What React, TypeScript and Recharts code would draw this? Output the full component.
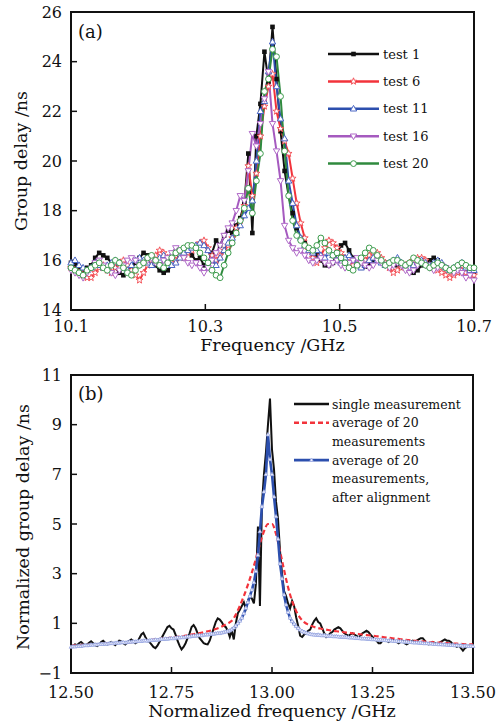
import React from 'react';
import { LineChart, Line, XAxis, YAxis, Legend, ReferenceArea, Customized } from 'recharts';

const FONT = '"DejaVu Serif", "Liberation Serif", serif';
const INK = '#111';

// ---- panel (a): group delay of 5 tests, 10.100 … 10.700 GHz sampled every 0.006 GHz
const test1 = [
  15.9, 15.8, 15.6, 15.5, 15.7, 15.8, 16.1, 16.3, 16.2, 16.1,
  15.9, 15.7, 15.5, 15.4, 15.5, 15.7, 15.9, 16.1, 16.3, 16.2,
  16.0, 15.8, 15.6, 15.5, 15.6, 15.8, 16.0, 16.2, 16.4, 16.3,
  16.2, 16.0, 16.1, 15.8, 15.9, 16.3, 16.8, 16.6, 17.0, 17.2,
  17.1, 17.4, 17.7, 18.3, 20.3, 17.1, 21.0, 22.3, 24.4, 23.2,
  25.4, 23.3, 21.2, 19.6, 18.6, 17.9, 17.3, 16.9, 16.7, 16.5,
  16.4, 16.2, 16.0, 15.8, 15.8, 15.9, 16.3, 16.6, 16.7, 16.4,
  16.1, 15.8, 15.7, 15.75, 15.9, 16.0, 16.1, 16.0, 15.9, 15.8,
  15.9, 15.8, 15.7, 15.7, 15.6, 15.5, 15.6, 15.8, 15.9, 16.0,
  16.1, 16.0, 15.8, 15.7, 15.6, 15.5, 15.5, 15.6, 15.6, 15.5,
  15.5,
];
const test6 = [
  15.7, 15.6, 15.5, 15.4, 15.3, 15.3, 15.5, 15.7, 15.8, 15.6,
  15.5, 15.7, 15.9, 16.0, 15.8, 15.6, 15.4, 15.2, 15.5, 15.8,
  16.0, 16.2, 16.4, 16.3, 16.1, 15.9, 16.0, 16.2, 16.1, 16.3,
  16.4, 16.6, 16.7, 16.8, 16.5, 16.2, 16.0, 16.2, 16.4, 16.6,
  16.9, 17.3, 17.6, 18.2, 19.8, 18.6, 19.5, 21.0, 22.2, 23.0,
  23.5, 22.0, 21.3, 20.8, 20.3, 19.3, 18.3, 17.5, 16.9, 16.4,
  16.1, 15.9, 16.2, 16.5, 16.8, 16.7, 16.5, 16.3, 16.1, 15.9,
  15.8, 15.8, 15.9, 16.0, 16.2, 16.3, 16.3, 16.1, 15.9, 15.7,
  15.5, 15.6, 15.7, 15.8, 15.9, 16.0, 16.1, 16.1, 16.0, 15.8,
  15.7, 15.6, 15.5, 15.4, 15.3, 15.4, 15.5, 15.6, 15.5, 15.4,
  15.4,
];
const test11 = [
  15.9, 16.0, 15.8, 15.7, 15.6, 15.7, 15.9, 15.8, 15.7, 15.8,
  15.9, 16.0, 15.9, 15.7, 15.6, 15.8, 16.0, 16.1, 16.0, 15.9,
  15.8, 15.9, 16.1, 16.2, 16.0, 15.8, 15.9, 16.1, 16.3, 16.4,
  16.5, 16.6, 16.7, 16.6, 16.4, 16.0, 15.8, 16.1, 16.4, 16.7,
  16.9, 17.1, 17.4, 17.8, 18.1, 18.4, 20.0, 22.0, 22.4, 23.6,
  24.8, 23.0, 21.7, 20.9, 19.2, 18.3, 17.4, 16.9, 16.6, 16.4,
  16.3, 16.4, 16.2, 16.1, 16.3, 16.2, 16.0, 15.9, 16.1, 16.2,
  16.0, 15.8, 15.7, 15.8, 16.0, 16.1, 16.0, 15.9, 15.8, 15.9,
  16.0, 16.1, 15.9, 15.8, 15.7, 15.8, 15.9, 16.0, 15.9, 15.8,
  15.9, 16.0, 15.9, 15.7, 15.6, 15.7, 15.8, 15.9, 15.7, 15.6,
  15.6,
];
const test16 = [
  15.6, 15.5, 15.4, 15.3, 15.5, 15.7, 15.9, 16.0, 15.8, 15.6,
  15.5, 15.4, 15.6, 15.8, 16.0, 16.1, 16.0, 15.8, 15.9, 16.0,
  16.1, 15.9, 15.8, 16.0, 16.1, 16.3, 16.5, 16.4, 16.1, 15.9,
  15.8, 15.9, 15.7, 15.5, 15.7, 16.0, 16.3, 16.6, 17.0, 17.3,
  17.5, 18.0, 18.6, 18.4, 19.6, 21.1, 20.6, 21.5, 22.5, 23.6,
  21.5, 20.4, 19.2, 17.4, 16.8, 16.5, 16.3, 16.4, 16.2, 16.0,
  15.9, 16.0, 16.1, 15.9, 15.8, 15.9, 16.0, 15.8, 15.7, 15.9,
  16.0, 16.1, 15.9, 15.8, 15.7, 15.8, 16.0, 15.9, 15.8, 15.7,
  15.8, 15.9, 15.8, 15.6, 15.5, 15.6, 15.8, 15.9, 15.8, 15.7,
  15.6, 15.7, 15.8, 15.7, 15.6, 15.5, 15.6, 15.5, 15.3, 15.4,
  15.2,
];
const test20 = [
  15.7, 15.6, 15.5, 15.4, 15.6, 15.7, 15.8, 15.9, 15.7, 15.6,
  15.8, 16.0, 15.9, 15.7, 15.5, 15.4, 15.6, 15.8, 15.9, 16.1,
  16.2, 16.0, 15.8, 15.7, 15.9, 16.1, 16.3, 16.4, 16.5, 16.6,
  16.6, 16.5, 16.3, 16.1, 15.9, 15.6, 15.4, 15.3, 15.8, 16.3,
  16.7, 17.1, 17.6, 18.1, 18.9, 17.9, 19.2, 20.3, 22.8, 23.3,
  24.5, 24.2, 22.6, 20.4, 18.6, 17.6, 17.0, 16.8, 16.6, 16.5,
  16.4, 16.6, 16.9, 16.7, 16.4, 16.2, 16.3, 16.1, 15.9, 15.7,
  15.6, 15.8, 16.1, 16.3, 16.5, 16.4, 16.2, 16.0, 15.8, 15.9,
  16.0, 16.0, 15.9, 15.8, 15.9, 16.1, 16.0, 15.9, 15.8, 15.7,
  15.8, 15.9, 15.8, 15.7, 15.6, 15.7, 15.8, 15.9, 15.8, 15.7,
  15.7,
];
const xTicksA = [10.1, 10.3, 10.5, 10.7];
const yTicksA = [14, 16, 18, 20, 22, 24, 26];

// ---- panel (b): normalized group delay, 12.50 … 13.50 GHz
// single measurement and aligned average every 0.005 GHz
const single = [
  0.05, 0.10, 0.15, 0.12, 0.20, 0.25, 0.18, 0.10, 0.15, 0.22,
  0.28, 0.20, 0.12, 0.08, 0.15, 0.25, 0.30, 0.22, 0.15, 0.20,
  0.25, 0.18, 0.12, 0.20, 0.30, 0.28, 0.20, 0.15, 0.22, 0.30,
  0.35, 0.28, 0.20, 0.25, 0.40, 0.55, 0.62, 0.45, 0.30, 0.25,
  0.15, 0.05, 0.00, 0.10, 0.25, 0.40, 0.55, 0.70, 0.85, 0.90,
  0.80, 0.75, 0.55, 0.30, 0.10, -0.05, 0.05, 0.20, 0.40, 0.60,
  0.85, 0.93, 0.80, 0.60, 0.40, 0.30, 0.20, 0.17, 0.15, 0.30,
  0.55, 0.80, 1.05, 1.20, 1.15, 1.05, 0.90, 0.85, 0.70, 0.45,
  0.70, 0.35, 1.00, 1.40, 1.55, 1.70, 1.85, 1.60, 1.90, 2.10,
  2.00, 1.80, 2.60, 4.90, 1.70, 5.80, 7.00, 7.90, 9.00, 10.05,
  8.00, 7.20, 5.90, 5.20, 3.90, 3.00, 2.30, 2.10, 1.80, 1.60,
  1.90, 1.70, 1.25, 0.90, 0.50, 0.45, 0.55, 0.60, 0.70, 0.75,
  0.95, 1.10, 1.20, 1.05, 1.00, 0.80, 0.60, 0.45, 0.50, 0.60,
  0.65, 0.75, 0.80, 0.85, 0.80, 0.70, 0.60, 0.55, 0.50, 0.55,
  0.60, 0.55, 0.50, 0.45, 0.50, 0.60, 0.65, 0.70, 0.65, 0.55,
  0.45, 0.35, 0.30, 0.20, 0.20, 0.30, 0.35, 0.30, 0.25, 0.30,
  0.35, 0.30, 0.25, 0.20, 0.25, 0.30, 0.20, 0.15, 0.20, 0.25,
  0.30, 0.25, 0.30, 0.35, 0.40, 0.40, 0.30, 0.20, 0.15, 0.20,
  0.25, 0.20, 0.15, 0.20, 0.25, 0.30, 0.35, 0.30, 0.30, 0.25,
  0.15, 0.10, 0.05, 0.10, 0.00, -0.10, 0.00, 0.05, 0.10, 0.05,
  0.08,
];
const aligned = [
  0.05, 0.07, 0.06, 0.08, 0.09, 0.08, 0.10, 0.12, 0.11, 0.12,
  0.14, 0.13, 0.15, 0.14, 0.16, 0.17, 0.16, 0.18, 0.17, 0.19,
  0.20, 0.19, 0.21, 0.22, 0.21, 0.23, 0.24, 0.22, 0.24, 0.26,
  0.25, 0.27, 0.26, 0.28, 0.29, 0.28, 0.30, 0.31, 0.29, 0.31,
  0.33, 0.32, 0.34, 0.33, 0.35, 0.37, 0.36, 0.38, 0.37, 0.39,
  0.40, 0.39, 0.41, 0.43, 0.42, 0.44, 0.43, 0.45, 0.47, 0.46,
  0.48, 0.50, 0.49, 0.51, 0.52, 0.51, 0.53, 0.55, 0.54, 0.56,
  0.58, 0.57, 0.59, 0.61, 0.60, 0.62, 0.64, 0.66, 0.68, 0.71,
  0.75, 0.82, 0.90, 1.00, 1.10, 1.22, 1.40, 1.62, 1.85, 2.10,
  2.35, 2.65, 3.10, 3.75, 4.70, 5.70, 6.30, 7.00, 8.60, 7.60,
  7.00, 6.10, 5.30, 4.40, 3.40, 2.80, 2.15, 1.75, 1.45, 1.22,
  1.08, 0.98, 0.88, 0.80, 0.74, 0.69, 0.65, 0.62, 0.59, 0.57,
  0.55,
  0.54, 0.53, 0.54, 0.52, 0.51, 0.52, 0.50, 0.49, 0.50, 0.48,
  0.47, 0.48, 0.46, 0.45, 0.46, 0.44, 0.45, 0.43, 0.42, 0.43,
  0.41, 0.40, 0.41, 0.39, 0.38, 0.39, 0.37, 0.38, 0.36, 0.35,
  0.36, 0.34, 0.33, 0.34, 0.32, 0.33, 0.31, 0.30, 0.31, 0.29,
  0.28, 0.29, 0.27, 0.28, 0.26, 0.25, 0.26, 0.24, 0.25, 0.23,
  0.22, 0.23, 0.21, 0.22, 0.20, 0.19, 0.20, 0.18, 0.19, 0.17,
  0.16, 0.17, 0.15, 0.16, 0.14, 0.15, 0.13, 0.14, 0.12, 0.13,
  0.11, 0.12, 0.10, 0.11, 0.09, 0.10, 0.09, 0.08, 0.09, 0.08,
];
// plain average of 20 measurements, every 0.01 GHz
const average = [
  0.10, 0.11, 0.12, 0.13, 0.13, 0.14, 0.15, 0.16, 0.17, 0.18,
  0.19, 0.20, 0.21, 0.22, 0.23, 0.24, 0.26, 0.27, 0.29, 0.31,
  0.33, 0.35, 0.37, 0.39, 0.41, 0.43, 0.45, 0.47, 0.49, 0.52,
  0.55, 0.58, 0.61, 0.64, 0.68, 0.72, 0.77, 0.83, 0.91, 1.00,
  1.10, 1.35, 1.70, 2.10, 2.55, 3.05, 3.60, 4.20, 4.70, 5.00,
  5.00, 4.60, 3.90, 3.15, 2.45, 1.90, 1.50, 1.22, 1.05, 0.95,
  0.88, 0.83, 0.79, 0.76, 0.73, 0.70, 0.68, 0.66, 0.64, 0.62,
  0.60, 0.58, 0.56, 0.54, 0.52, 0.50, 0.48, 0.46, 0.44, 0.42,
  0.40, 0.38, 0.36, 0.34, 0.32, 0.31, 0.29, 0.28, 0.26, 0.25,
  0.24, 0.23, 0.22, 0.21, 0.20, 0.19, 0.18, 0.17, 0.16, 0.15,
  0.15,
];
const xTicksB = [12.5, 12.75, 13.0, 13.25, 13.5];
const yTicksB = [-1, 1, 3, 5, 7, 9, 11];

const round3 = (v: number) => Math.round(v * 1000) / 1000;
const dataA = test1.map((v, i) => ({
  f: round3(10.1 + i * 0.006),
  t1: v, t6: test6[i], t11: test11[i], t16: test16[i], t20: test20[i],
}));
const singleData = single.map((v, i) => ({ f: round3(12.5 + i * 0.005), v }));
const alignedData = aligned.map((v, i) => ({ f: round3(12.5 + i * 0.005), v }));
const averageData = average.map((v, i) => ({ f: round3(12.5 + i * 0.01), v }));

const SERIES_A = [
  { key: 't1', name: 'test 1', color: '#111111', mark: '#111111', kind: 'square' },
  { key: 't6', name: 'test 6', color: '#f2333b', mark: '#f24a50', kind: 'star' },
  { key: 't11', name: 'test 11', color: '#2c4fae', mark: '#4a66c4', kind: 'tri' },
  { key: 't16', name: 'test 16', color: '#a55abf', mark: '#b06ac8', kind: 'triDown' },
  { key: 't20', name: 'test 20', color: '#2f8a3e', mark: '#3d9c4d', kind: 'circle' },
];

function starPath(cx: number, cy: number, R: number, r: number) {
  let d = '';
  for (let k = 0; k < 10; k++) {
    const a = ((-90 + 36 * k) * Math.PI) / 180;
    const rr = k % 2 === 0 ? R : r;
    d += (k === 0 ? 'M' : 'L') + (cx + rr * Math.cos(a)).toFixed(2) + ',' + (cy + rr * Math.sin(a)).toFixed(2);
  }
  return d + 'Z';
}

function Marker({ kind, cx, cy, color }: { kind: string; cx: number; cy: number; color: string }) {
  if (cx == null || cy == null) return null;
  switch (kind) {
    case 'square':
      return <rect x={cx - 2.3} y={cy - 2.3} width={4.6} height={4.6} fill={color} />;
    case 'star':
      return <path d={starPath(cx, cy, 3.6, 1.5)} fill="#fff" stroke={color} strokeWidth={0.9} />;
    case 'tri':
      return <path d={`M${cx},${cy - 3.4}L${cx + 3.2},${cy + 2.2}L${cx - 3.2},${cy + 2.2}Z`} fill="#fff" stroke={color} strokeWidth={1} />;
    case 'triDown':
      return <path d={`M${cx},${cy + 3.4}L${cx + 3.2},${cy - 2.2}L${cx - 3.2},${cy - 2.2}Z`} fill="#fff" stroke={color} strokeWidth={1} />;
    case 'circle':
      return <circle cx={cx} cy={cy} r={2.9} fill="#fff" stroke={color} strokeWidth={1} />;
    case 'small':
      return <path d={`M${cx},${cy - 2}L${cx + 1.9},${cy + 1.3}L${cx - 1.9},${cy + 1.3}Z`} fill="#f4f5ff" stroke={color} strokeWidth={0.8} />;
    default:
      return null;
  }
}

const BottomTick = ({ x, y, payload, gap, digits }: any) => (
  <text x={x} y={y + gap} textAnchor="middle" fontFamily={FONT} fontSize={16} fill={INK}>
    {Number(payload.value).toFixed(digits)}
  </text>
);

const signed = (v: number) => (v < 0 ? '\u2212' + Math.abs(v) : String(v));

const LeftTick = ({ x, y, payload }: any) => (
  <text x={x - 9} y={y} dy="0.36em" textAnchor="end" fontFamily={FONT} fontSize={16} fill={INK}>
    {signed(Number(payload.value))}
  </text>
);

const PanelText = ({ tag, ylabel, ycx, ycy }: { tag: string; ylabel: string; ycx: number; ycy: number }) => (
  <g fontFamily={FONT} fill={INK}>
    <text x={78} y={38} fontSize={18}>{tag}</text>
    <text
      x={ycx}
      y={ycy}
      fontSize={17.5}
      textAnchor="middle"
      dominantBaseline="central"
      transform={`rotate(-90 ${ycx} ${ycy})`}
    >
      {ylabel}
    </text>
  </g>
);

const LegendA = () => (
  <svg width={180} height={150} style={{ display: 'block' }}>
    {SERIES_A.map((s, i) => {
      const y = 14 + i * 27.4;
      return (
        <g key={s.key}>
          <line x1={8} x2={59} y1={y} y2={y} stroke={s.color} strokeWidth={2.5} />
          <Marker kind={s.kind} cx={33.5} cy={y} color={s.mark} />
          <text x={63} y={y} dy="0.36em" fontFamily={FONT} fontSize={13} fill={INK}>
            {s.name}
          </text>
        </g>
      );
    })}
  </svg>
);

const LEGEND_B = ['single measurement', 'average of 20', 'measurements', 'average of 20', 'measurements,', 'after alignment'];

const LegendB = () => (
  <svg width={210} height={130} style={{ display: 'block' }}>
    <line x1={6} x2={41} y1={12} y2={12} stroke="#111" strokeWidth={2.5} />
    <line x1={6} x2={41} y1={30.7} y2={30.7} stroke="#f2333b" strokeWidth={2.5} strokeDasharray="5 3" />
    <line x1={6} x2={41} y1={68.1} y2={68.1} stroke="#2c4fae" strokeWidth={2.8} />
    <Marker kind="small" cx={23.5} cy={68.1} color="#9aa8e2" />
    {LEGEND_B.map((t, i) => (
      <text key={i} x={44} y={12 + i * 18.7} dy="0.36em" fontFamily={FONT} fontSize={12.5} fill={INK}>
        {t}
      </text>
    ))}
  </svg>
);

const axisStroke = { stroke: INK, strokeWidth: 2 };
const tickStroke = { stroke: INK, strokeWidth: 1.5 };

function ChartA() {
  return (
    <LineChart width={503} height={362} data={dataA} margin={{ top: 12, right: 29, bottom: 0, left: 0 }}>
      <ReferenceArea x1={10.1} x2={10.7} y1={14} y2={26} fill="none" stroke={INK} strokeWidth={2} />
      <XAxis
        dataKey="f"
        type="number"
        domain={[10.1, 10.7]}
        ticks={xTicksA}
        interval={0}
        height={52}
        tickSize={-6}
        tickMargin={6}
        axisLine={axisStroke}
        tickLine={tickStroke}
        tick={<BottomTick gap={22} digits={1} />}
        label={{ value: 'Frequency /GHz', position: 'insideBottom', offset: 11, fontFamily: FONT, fontSize: 17.5, fill: INK }}
      />
      <YAxis
        type="number"
        domain={[14, 26]}
        ticks={yTicksA}
        interval={0}
        width={71}
        tickSize={-6}
        tickMargin={6}
        axisLine={axisStroke}
        tickLine={tickStroke}
        tick={<LeftTick />}
      />
      {SERIES_A.map((s) => (
        <Line
          key={s.key}
          dataKey={s.key}
          type="linear"
          stroke={s.color}
          strokeWidth={2}
          isAnimationActive={false}
          activeDot={false}
          dot={(p: any) => <Marker key={s.key + p.index} kind={s.kind} cx={p.cx} cy={p.cy} color={s.mark} />}
        />
      ))}
      <Legend
        layout="vertical"
        align="center"
        verticalAlign="middle"
        wrapperStyle={{ top: 40, left: 320, width: 180 }}
        content={() => <LegendA />}
      />
      <Customized component={<PanelText tag="(a)" ylabel="Group delay /ns" ycx={21} ycy={161} />} />
    </LineChart>
  );
}

function ChartB() {
  return (
    <LineChart width={503} height={363} margin={{ top: 13, right: 30, bottom: 0, left: 0 }}>
      <ReferenceArea x1={12.5} x2={13.5} y1={-1} y2={11} fill="none" stroke={INK} strokeWidth={2} />
      <XAxis
        dataKey="f"
        type="number"
        domain={[12.5, 13.5]}
        ticks={xTicksB}
        interval={0}
        height={52}
        tickSize={-6}
        tickMargin={6}
        axisLine={axisStroke}
        tickLine={tickStroke}
        tick={<BottomTick gap={25} digits={2} />}
        label={{ value: 'Normalized frequency /GHz', position: 'insideBottom', offset: 8, fontFamily: FONT, fontSize: 17.5, fill: INK }}
      />
      <YAxis
        type="number"
        domain={[-1, 11]}
        ticks={yTicksB}
        interval={0}
        width={71}
        tickSize={-6}
        tickMargin={6}
        axisLine={axisStroke}
        tickLine={tickStroke}
        tick={<LeftTick />}
      />
      <Line data={singleData} dataKey="v" type="linear" stroke="#111" strokeWidth={2} dot={false} activeDot={false} isAnimationActive={false} />
      <Line data={averageData} dataKey="v" type="monotone" stroke="#f2333b" strokeWidth={2.2} strokeDasharray="5 3" dot={false} activeDot={false} isAnimationActive={false} />
      <Line
        data={alignedData}
        dataKey="v"
        type="linear"
        stroke="#2c4fae"
        strokeWidth={2.6}
        activeDot={false}
        isAnimationActive={false}
        dot={(p: any) => <Marker key={'b' + p.index} kind="small" cx={p.cx} cy={p.cy} color="#9aa8e2" />}
      />
      <Legend
        layout="vertical"
        align="center"
        verticalAlign="middle"
        wrapperStyle={{ top: 30, left: 288, width: 210 }}
        content={() => <LegendB />}
      />
      <Customized component={<PanelText tag="(b)" ylabel="Normalized group delay /ns" ycx={23} ycy={165} />} />
    </LineChart>
  );
}

export default function App() {
  return (
    <div style={{ position: 'absolute', top: 0, left: 0, width: 503, height: 725, background: '#fff' }}>
      <ChartA />
      <ChartB />
    </div>
  );
}
